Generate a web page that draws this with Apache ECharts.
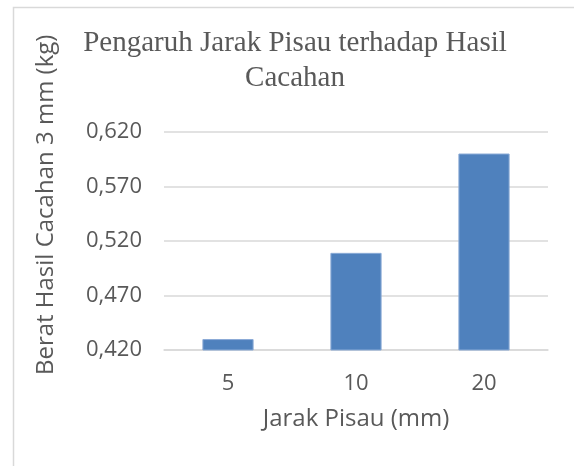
<!DOCTYPE html>
<html>
<head>
<meta charset="utf-8">
<script src="https://cdn.jsdelivr.net/npm/echarts@6/dist/echarts.min.js"></script>
<style>
html,body{margin:0;padding:0;background:#fff;}
#c{width:574px;height:466px;}
</style>
</head>
<body>
<div id="c"></div>
<script>
const categories = ['5', '10', '20'];
const values = [0.430, 0.509, 0.600];
const yTicks = [0.42, 0.47, 0.52, 0.57, 0.62];
const titleText = 'Pengaruh Jarak Pisau terhadap Hasil\nCacahan';
const xTitle = 'Jarak Pisau (mm)';
const yTitle = 'Berat Hasil Cacahan 3 mm (kg)';

const chart = echarts.init(document.getElementById('c'), null, {renderer: 'canvas'});
const grey = '#595959';
const font = '"Open Sans", sans-serif';
chart.setOption({
  animation: false,
  backgroundColor: '#fff',
  graphic: [{
    type: 'rect', silent: true,
    shape: {x: 13.5, y: 7.5, width: 700, height: 700},
    style: {fill: 'none', stroke: '#d9d9d9', lineWidth: 1.5}
  }],
  title: {
    text: titleText,
    left: 295, top: 26, textAlign: 'center', padding: 0,
    textStyle: {fontFamily: '"Liberation Serif", "Times New Roman", serif', fontWeight: 'normal', fontSize: 29, color: grey, lineHeight: 35, align: 'center'}
  },
  grid: {left: 164, right: 26, top: 131.7, bottom: 116},
  xAxis: {
    type: 'category', data: categories,
    name: xTitle, nameLocation: 'middle', nameGap: 57,
    nameTextStyle: {fontFamily: font, fontSize: 24, color: grey},
    axisLine: {show: true, lineStyle: {color: '#d9d9d9', width: 1.5}},
    axisTick: {show: false},
    axisLabel: {fontFamily: font, fontSize: 22, color: grey, margin: 23}
  },
  yAxis: {
    type: 'value', min: yTicks[0], max: yTicks[yTicks.length - 1], interval: 0.05,
    name: yTitle, nameLocation: 'middle', nameGap: 106,
    nameTextStyle: {fontFamily: font, fontSize: 24, color: grey, padding: [0, 0, 0, 72]},
    axisLine: {show: false}, axisTick: {show: false},
    splitLine: {lineStyle: {color: '#d9d9d9', width: 1.5}},
    axisLabel: {fontFamily: font, fontSize: 22, color: grey, margin: 22,
      formatter: v => v.toFixed(3).replace('.', ',')}
  },
  series: [{
    type: 'bar', data: values, barWidth: '40%',
    itemStyle: {color: '#4f81bd', borderColor: '#8aaad6', borderWidth: 1}
  }]
});
</script>
</body>
</html>
